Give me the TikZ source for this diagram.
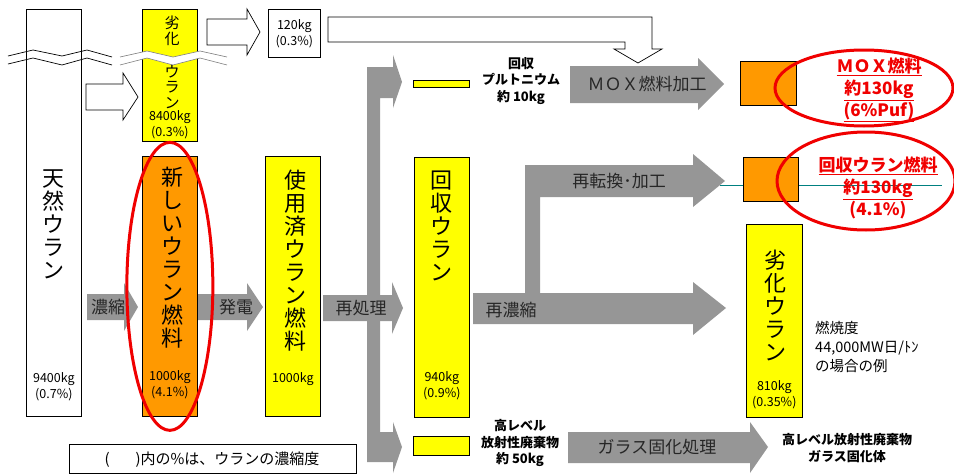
\documentclass[tikz,border=0pt]{standalone}
\usepackage{fontspec}
\setmainfont{Noto Sans CJK JP}
\usetikzlibrary{positioning}
\definecolor{flowgray}{RGB}{150,150,150}
\definecolor{uyellow}{RGB}{255,255,0}
\definecolor{uorange}{RGB}{255,153,0}
\definecolor{ured}{RGB}{240,0,0}
\definecolor{axisteal}{RGB}{0,128,128}
\tikzset{
  % box standing for an amount of uranium
  ubox/.style = {
    draw = black,
    line width = 0.7pt,
    anchor = north west,
    inner sep = 0,
    minimum width = 55pt
  },
  % vertical label inside a box
  vlabel/.style = {
    align = center,
    inner sep = 0,
    font = \fontsize{22}{23}\selectfont
  },
  % weight and enrichment
  amount/.style = {
    align = center,
    inner sep = 0,
    font = \fontsize{12.5}{16}\selectfont
  },
  % grey process arrow
  flow/.style = {
    fill = flowgray
  },
  flowlabel/.style = {
    inner sep = 0,
    text = black!85,
    font = \fontsize{17}{20}\selectfont
  },
  % white outlined arrow
  hollow/.style = {
    draw = black,
    fill = white,
    line width = 0.7pt
  },
  boldnote/.style = {
    align = center,
    inner sep = 0,
    font = \bfseries\fontsize{13}{16.5}\selectfont
  },
  redtext/.style = {
    align = center,
    inner sep = 0,
    text = ured,
    font = \bfseries\fontsize{17}{22}\selectfont
  },
  redmark/.style = {
    draw = ured,
    line width = 3pt
  }
}

\begin{document}
\begin{tikzpicture}[x=1pt, y=-1pt]
  \useasboundingbox (0,0) rectangle (954,474);

  % process arrows
  \fill[flow] (87,294) -- (124,294) -- (124,283) -- (138,307) -- (124,331) -- (124,320) -- (87,320) -- cycle;
  \fill[flow] (198,294) -- (247,294) -- (247,283) -- (263,307) -- (247,331) -- (247,320) -- (198,320) -- cycle;
  \fill[flow] (323,295) -- (392,295) -- (392,282) -- (403,308) -- (392,334) -- (392,321) -- (323,321) -- cycle;
  \fill[flow] (367,67) -- (393,67) -- (393,55) -- (402,82) -- (393,108) -- (393,98) -- (380,98)
    -- (380,432) -- (393,432) -- (393,422) -- (402,447) -- (393,473) -- (393,462) -- (367,462) -- cycle;
  \fill[flow] (473,293) -- (525,293) -- (525,165) -- (693,165) -- (693,154) -- (725,181) -- (693,207)
    -- (693,197) -- (540,197) -- (540,293) -- (693,293) -- (693,282) -- (726,308) -- (693,335)
    -- (693,324) -- (473,324) -- cycle;
  \fill[flow] (570,66) -- (698,66) -- (698,58) -- (724,84) -- (698,110) -- (698,103) -- (570,103) -- cycle;
  \fill[flow] (568,432) -- (750,432) -- (750,422) -- (768,447) -- (750,473) -- (750,463) -- (568,463) -- cycle;

  % depleted uranium side
  \draw[hollow] (86,84) -- (123,84) -- (123,73) -- (138,97) -- (123,120) -- (123,110) -- (86,110) -- cycle;
  \draw[hollow] (207,19) -- (247,19) -- (247,9) -- (260,32) -- (247,55) -- (247,45) -- (207,45) -- cycle;
  \draw[hollow] (328,17) -- (652,17) -- (652,49) -- (662,49) -- (638,63) -- (614,49) -- (625,49)
    -- (625,42) -- (328,42) -- cycle;

  \draw[axisteal, line width=0.6pt] (720,185) -- (942,185);

  % boxes
  \node[ubox, fill=white, minimum height=407pt] (natU) at (26,9) {};
  \node[ubox, fill=uyellow, minimum height=132pt] (depU) at (142,9) {};
  \node[ubox, fill=uorange, minimum height=260pt] (newF) at (142,156) {};
  \node[ubox, fill=uyellow, minimum height=260pt] (spentF) at (265,156) {};
  \node[ubox, fill=white, minimum width=52pt, minimum height=48pt, amount] (tails) at (268,9) {120kg\\(0.3\%)};
  \node[ubox, fill=uyellow, minimum height=260pt] (recU) at (414,157) {};
  \node[ubox, fill=uyellow, minimum width=56pt, minimum height=7pt] (puBar) at (413,80) {};
  \node[ubox, fill=uyellow, minimum width=56pt, minimum height=19pt] (hlwBar) at (413,436) {};
  \node[ubox, fill=uorange, minimum width=56pt, minimum height=44pt] (moxF) at (740,61) {};
  \node[ubox, fill=uorange, minimum height=44pt] (recF) at (743,157) {};
  \node[ubox, fill=uyellow, minimum width=56pt, minimum height=193pt] (depU2) at (746,224) {};
  \node[ubox, fill=white, minimum width=287pt, minimum height=29pt] (note) at (69,444) {};

  % breaks
  \fill[white] (120,57) -- (147,51) -- (173,57) -- (200,51) -- (227,57)
    -- (225,65) -- (200,58) -- (173,65) -- (147,58) -- (120,65) -- cycle;
  \draw[line width=0.7pt] (8,56) -- (33,50) -- (62,56) -- (87,50) -- (112,57);
  \draw[line width=0.7pt] (8,64) -- (33,58) -- (62,65) -- (87,58) -- (112,65);
  \draw[gray, line width=0.6pt] (120,57) -- (147,51) -- (173,57) -- (200,51) -- (227,57);
  \draw[gray, line width=0.6pt] (120,65) -- (147,58) -- (173,65) -- (200,58) -- (227,65);

  % labels in boxes
  \node[vlabel] (natU-t) at (natU.north |- 0,224) {天\\然\\ウ\\ラ\\ン};
  \node[amount] (natU-a) at (natU.north |- 0,387) {9400kg\\(0.7\%)};
  \node[vlabel, font=\fontsize{15}{16}\selectfont] (depU-t1) at (172,31) {劣\\化};
  \node[vlabel, font=\fontsize{15}{15.5}\selectfont] (depU-t2) at (172,87) {ウ\\ラ\\ン};
  \node[amount] (depU-a) at (depU.north |- 0,125) {8400kg\\(0.3\%)};
  \node[vlabel] (newF-t) at (172,258) {新\\し\\い\\ウ\\ラ\\ン\\燃\\料};
  \node[amount] (newF-a) at (newF.north |- 0,385) {1000kg\\(4.1\%)};
  \node[vlabel] (spentF-t) at (295,261) {使\\用\\済\\ウ\\ラ\\ン\\燃\\料};
  \node[amount] (spentF-a) at (spentF.north |- 0,379) {1000kg};
  \node[vlabel] (recU-t) at (441,226) {回\\収\\ウ\\ラ\\ン};
  \node[amount] (recU-a) at (recU.north |- 0,386) {940kg\\(0.9\%)};
  \node[vlabel] (depU2-t) at (775,305) {劣\\化\\ウ\\ラ\\ン};
  \node[amount] (depU2-a) at (depU2.north |- 0,395) {810kg\\(0.35\%)};

  % labels on arrows
  \node[flowlabel] (enrich) at (108,307) {濃縮};
  \node[flowlabel] (power) at (236,307) {発電};
  \node[flowlabel] (repro) at (361,308) {再処理};
  \node[flowlabel] (reenrich) at (511,310) {再濃縮};
  \node[flowlabel] (reconv) at (619,181) {再転換･加工};
  \node[flowlabel] (moxfab) at (647,84) {ＭＯＸ燃料加工};
  \node[flowlabel] (vitrify) at (657,447) {ガラス固化処理};

  \node[boldnote] (pu-t) at (521,81) {回収\\プルトニウム\\約 10kg};
  \node[boldnote] (hlw-t) at (520,443) {高レベル\\放射性廃棄物\\約 50kg};
  \node[boldnote] (glass-t) at (847,448) {高レベル放射性廃棄物\\ガラス固化体};
  \node[align=left, anchor=west, inner sep=0, font=\fontsize{14.5}{19}\selectfont] (burnup)
    at (815,347) {燃焼度\\44,000MW日/ﾄﾝ\\の場合の例};
  \node[inner sep=0, font=\fontsize{15}{18}\selectfont] (note-t) at (212,460)
    {(\hspace{26pt})内の\%は、ウランの濃縮度};

  % products
  \node[redtext] (moxF-t) at (879,90) {\underline{ＭＯＸ燃料}\\\underline{約130kg}\\\underline{(6\%Puf)}};
  \node[redtext] (recF-t) at (878,188) {\underline{回収ウラン燃料}\\\underline{約130kg}\\(4.1\%)};

  \draw[redmark] (newF.center) ellipse [x radius=43, y radius=144];
  \draw[redmark] (864,88) ellipse [x radius=89, y radius=38];
  \draw[redmark] (866,181) ellipse [x radius=89, y radius=49];
\end{tikzpicture}
\end{document}
